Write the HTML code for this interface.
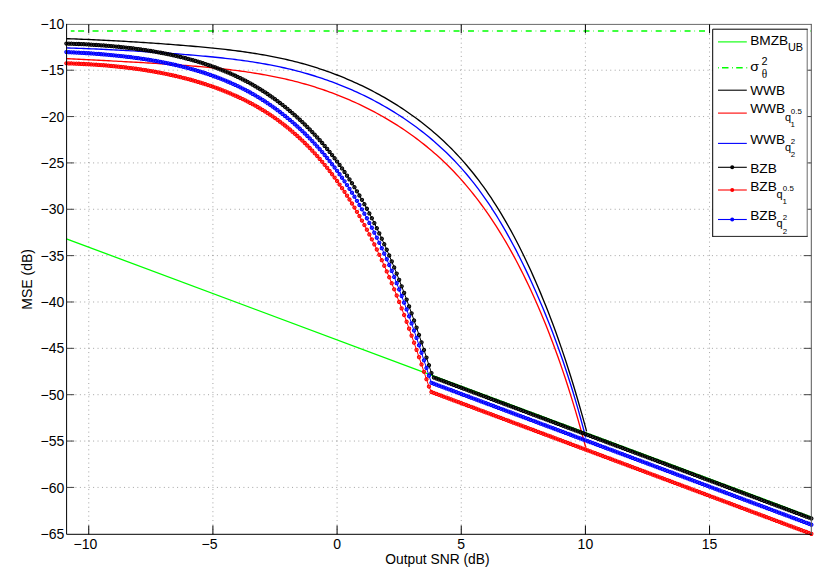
<!DOCTYPE html>
<html><head><meta charset="utf-8"><title>MSE vs Output SNR</title>
<style>html,body{margin:0;padding:0;background:#fff}body{width:830px;height:587px;overflow:hidden}</style>
</head><body>
<svg width="830" height="587" viewBox="0 0 830 587" style="display:block;font-family:'Liberation Sans',sans-serif">
<rect x="0" y="0" width="830" height="587" fill="#fff"/>
<defs><clipPath id="ax"><rect x="63.599999999999994" y="24.4" width="750.6999999999999" height="512.9"/></clipPath>
<marker id="mk" viewBox="-3 -3 6 6" markerWidth="6" markerHeight="6" refX="0" refY="0" markerUnits="userSpaceOnUse"><circle r="1.62" fill="#000" fill-opacity="0.6" stroke="#000" stroke-width="1.05"/></marker>
<marker id="mr" viewBox="-3 -3 6 6" markerWidth="6" markerHeight="6" refX="0" refY="0" markerUnits="userSpaceOnUse"><circle r="1.62" fill="#f00" fill-opacity="0.6" stroke="#f00" stroke-width="1.05"/></marker>
<marker id="mb" viewBox="-3 -3 6 6" markerWidth="6" markerHeight="6" refX="0" refY="0" markerUnits="userSpaceOnUse"><circle r="1.62" fill="#00f" fill-opacity="0.6" stroke="#00f" stroke-width="1.05"/></marker>
</defs>
<g stroke="#000" stroke-opacity="0.36" stroke-width="1" stroke-dasharray="1 3.42" fill="none">
<line x1="88.76" y1="534.3" x2="88.76" y2="24.4"/>
<line x1="212.92" y1="534.3" x2="212.92" y2="24.4"/>
<line x1="337.08" y1="534.3" x2="337.08" y2="24.4"/>
<line x1="461.24" y1="534.3" x2="461.24" y2="24.4"/>
<line x1="585.40" y1="534.3" x2="585.40" y2="24.4"/>
<line x1="709.56" y1="534.3" x2="709.56" y2="24.4"/>
<line x1="66.6" y1="70.21" x2="811.3" y2="70.21"/>
<line x1="66.6" y1="116.56" x2="811.3" y2="116.56"/>
<line x1="66.6" y1="162.92" x2="811.3" y2="162.92"/>
<line x1="66.6" y1="209.28" x2="811.3" y2="209.28"/>
<line x1="66.6" y1="255.63" x2="811.3" y2="255.63"/>
<line x1="66.6" y1="301.99" x2="811.3" y2="301.99"/>
<line x1="66.6" y1="348.34" x2="811.3" y2="348.34"/>
<line x1="66.6" y1="394.70" x2="811.3" y2="394.70"/>
<line x1="66.6" y1="441.06" x2="811.3" y2="441.06"/>
<line x1="66.6" y1="487.41" x2="811.3" y2="487.41"/>
</g>
<g clip-path="url(#ax)" fill="none" stroke-linejoin="round">
<line x1="66.41" y1="238.85" x2="811.37" y2="516.99" stroke="#0f0" stroke-width="1.3"/>
<line x1="70.8" y1="31.00" x2="74.5" y2="31.00" stroke="#0f0" stroke-width="1.6"/>
<line x1="78.1" y1="31.00" x2="811.37" y2="31.00" stroke="#0f0" stroke-width="1.6" stroke-dasharray="6 3.97 0.5 3.97"/>
<polyline points="66.41,38.72 68.89,38.78 71.38,38.87 73.86,38.95 76.34,39.04 78.83,39.14 81.31,39.23 83.79,39.33 86.28,39.43 88.76,39.54 91.24,39.64 93.73,39.75 96.21,39.87 98.69,39.98 101.17,40.10 103.66,40.22 106.14,40.34 108.62,40.47 111.11,40.59 113.59,40.72 116.07,40.86 118.56,40.99 121.04,41.13 123.52,41.27 126.01,41.41 128.49,41.56 130.97,41.71 133.46,41.86 135.94,42.01 138.42,42.17 140.91,42.32 143.39,42.49 145.87,42.65 148.36,42.81 150.84,42.98 153.32,43.15 155.81,43.33 158.29,43.50 160.77,43.68 163.25,43.86 165.74,44.05 168.22,44.23 170.70,44.42 173.19,44.62 175.67,44.81 178.15,45.01 180.64,45.21 183.12,45.41 185.60,45.61 188.09,45.82 190.57,46.03 193.05,46.24 195.54,46.46 198.02,46.68 200.50,46.90 202.99,47.13 205.47,47.37 207.95,47.60 210.44,47.85 212.92,48.10 215.40,48.35 217.89,48.61 220.37,48.88 222.85,49.15 225.33,49.44 227.82,49.73 230.30,50.02 232.78,50.33 235.27,50.64 237.75,50.96 240.23,51.29 242.72,51.63 245.20,51.98 247.68,52.34 250.17,52.71 252.65,53.09 255.13,53.49 257.62,53.89 260.10,54.30 262.58,54.73 265.07,55.17 267.55,55.62 270.03,56.09 272.52,56.57 275.00,57.06 277.48,57.57 279.97,58.09 282.45,58.63 284.93,59.18 287.41,59.75 289.90,60.34 292.38,60.94 294.86,61.56 297.35,62.20 299.83,62.85 302.31,63.52 304.80,64.22 307.28,64.93 309.76,65.66 312.25,66.41 314.73,67.18 317.21,67.97 319.70,68.78 322.18,69.60 324.66,70.45 327.15,71.32 329.63,72.21 332.11,73.12 334.60,74.05 337.08,75.00 339.56,75.97 342.05,76.97 344.53,77.98 347.01,79.02 349.49,80.08 351.98,81.17 354.46,82.27 356.94,83.40 359.43,84.55 361.91,85.73 364.39,86.93 366.88,88.16 369.36,89.41 371.84,90.68 374.33,91.98 376.81,93.31 379.29,94.67 381.78,96.05 384.26,97.46 386.74,98.89 389.23,100.36 391.71,101.85 394.19,103.38 396.68,104.93 399.16,106.52 401.64,108.14 404.13,109.79 406.61,111.47 409.09,113.19 411.57,114.94 414.06,116.73 416.54,118.55 419.02,120.41 421.51,122.31 423.99,124.25 426.47,126.24 428.96,128.26 431.44,130.32 433.92,132.43 436.41,134.59 438.89,136.80 441.37,139.05 443.86,141.35 446.34,143.71 448.82,146.12 451.31,148.59 453.79,151.12 456.27,153.71 458.76,156.37 461.24,159.09 463.72,161.88 466.21,164.75 468.69,167.69 471.17,170.70 473.65,173.79 476.14,176.96 478.62,180.21 481.10,183.54 483.59,186.96 486.07,190.47 488.55,194.06 491.04,197.74 493.52,201.51 496.00,205.38 498.49,209.35 500.97,213.41 503.45,217.58 505.94,221.84 508.42,226.21 510.90,230.69 513.39,235.28 515.87,239.98 518.35,244.79 520.84,249.72 523.32,254.76 525.80,259.92 528.29,265.20 530.77,270.59 533.25,276.11 535.73,281.74 538.22,287.50 540.70,293.38 543.18,299.39 545.67,305.54 548.15,311.83 550.63,318.26 553.12,324.85 555.60,331.60 558.08,338.52 560.57,345.61 563.05,352.87 565.53,360.32 568.02,367.95 570.50,375.78 572.98,383.80 575.47,392.02 577.95,400.44 580.43,409.07 582.92,417.89 585.40,426.91 586.60,431.35" stroke="#000" stroke-width="1.35"/>
<polyline points="66.41,58.62 68.89,58.71 71.38,58.85 73.86,58.98 76.34,59.12 78.83,59.25 81.31,59.38 83.79,59.51 86.28,59.64 88.76,59.77 91.24,59.90 93.73,60.03 96.21,60.15 98.69,60.28 101.17,60.41 103.66,60.54 106.14,60.66 108.62,60.79 111.11,60.92 113.59,61.05 116.07,61.18 118.56,61.31 121.04,61.44 123.52,61.58 126.01,61.71 128.49,61.84 130.97,61.98 133.46,62.12 135.94,62.25 138.42,62.39 140.91,62.54 143.39,62.68 145.87,62.83 148.36,62.97 150.84,63.12 153.32,63.27 155.81,63.43 158.29,63.58 160.77,63.74 163.25,63.90 165.74,64.07 168.22,64.23 170.70,64.40 173.19,64.57 175.67,64.75 178.15,64.93 180.64,65.11 183.12,65.30 185.60,65.48 188.09,65.68 190.57,65.87 193.05,66.07 195.54,66.28 198.02,66.49 200.50,66.70 202.99,66.92 205.47,67.14 207.95,67.37 210.44,67.61 212.92,67.85 215.40,68.10 217.89,68.36 220.37,68.62 222.85,68.89 225.33,69.17 227.82,69.45 230.30,69.75 232.78,70.05 235.27,70.36 237.75,70.68 240.23,71.01 242.72,71.35 245.20,71.70 247.68,72.07 250.17,72.44 252.65,72.82 255.13,73.21 257.62,73.62 260.10,74.04 262.58,74.46 265.07,74.91 267.55,75.36 270.03,75.83 272.52,76.31 275.00,76.81 277.48,77.32 279.97,77.85 282.45,78.39 284.93,78.94 287.41,79.52 289.90,80.11 292.38,80.71 294.86,81.33 297.35,81.97 299.83,82.63 302.31,83.31 304.80,84.01 307.28,84.72 309.76,85.45 312.25,86.21 314.73,86.98 317.21,87.77 319.70,88.58 322.18,89.41 324.66,90.26 327.15,91.14 329.63,92.03 332.11,92.94 334.60,93.87 337.08,94.83 339.56,95.81 342.05,96.80 344.53,97.82 347.01,98.86 349.49,99.93 351.98,101.02 354.46,102.13 356.94,103.26 359.43,104.42 361.91,105.60 364.39,106.81 366.88,108.04 369.36,109.29 371.84,110.58 374.33,111.88 376.81,113.22 379.29,114.58 381.78,115.97 384.26,117.39 386.74,118.83 389.23,120.31 391.71,121.81 394.19,123.35 396.68,124.91 399.16,126.51 401.64,128.14 404.13,129.80 406.61,131.50 409.09,133.23 411.57,135.00 414.06,136.80 416.54,138.64 419.02,140.52 421.51,142.44 423.99,144.40 426.47,146.40 428.96,148.44 431.44,150.53 433.92,152.67 436.41,154.85 438.89,157.08 441.37,159.36 443.86,161.69 446.34,164.08 448.82,166.52 451.31,169.03 453.79,171.59 456.27,174.22 458.76,176.91 461.24,179.66 463.72,182.49 466.21,185.38 468.69,188.33 471.17,191.36 473.65,194.47 476.14,197.64 478.62,200.90 481.10,204.23 483.59,207.63 486.07,211.12 488.55,214.70 491.04,218.35 493.52,222.10 496.00,225.93 498.49,229.85 500.97,233.87 503.45,237.98 505.94,242.18 508.42,246.49 510.90,250.90 513.39,255.41 515.87,260.02 518.35,264.75 520.84,269.59 523.32,274.54 525.80,279.60 528.29,284.78 530.77,290.08 533.25,295.50 535.73,301.05 538.22,306.72 540.70,312.52 543.18,318.46 545.67,324.54 548.15,330.77 550.63,337.16 553.12,343.70 555.60,350.42 558.08,357.30 560.57,364.37 563.05,371.63 565.53,379.08 568.02,386.73 570.50,394.59 572.98,402.65 575.47,410.93 577.95,419.43 580.43,428.15 582.92,437.08 585.40,446.24 586.10,447.46" stroke="#f00" stroke-width="1.35"/>
<polyline points="66.41,47.90 68.89,47.96 71.38,48.05 73.86,48.14 76.34,48.23 78.83,48.32 81.31,48.42 83.79,48.52 86.28,48.62 88.76,48.72 91.24,48.82 93.73,48.93 96.21,49.04 98.69,49.15 101.17,49.27 103.66,49.38 106.14,49.50 108.62,49.62 111.11,49.74 113.59,49.87 116.07,49.99 118.56,50.12 121.04,50.26 123.52,50.39 126.01,50.53 128.49,50.67 130.97,50.81 133.46,50.95 135.94,51.10 138.42,51.25 140.91,51.40 143.39,51.55 145.87,51.71 148.36,51.87 150.84,52.03 153.32,52.19 155.81,52.36 158.29,52.53 160.77,52.70 163.25,52.87 165.74,53.05 168.22,53.23 170.70,53.41 173.19,53.60 175.67,53.78 178.15,53.97 180.64,54.17 183.12,54.36 185.60,54.56 188.09,54.76 190.57,54.97 193.05,55.17 195.54,55.39 198.02,55.60 200.50,55.82 202.99,56.05 205.47,56.27 207.95,56.51 210.44,56.75 212.92,56.99 215.40,57.25 217.89,57.50 220.37,57.77 222.85,58.04 225.33,58.32 227.82,58.60 230.30,58.90 232.78,59.20 235.27,59.51 237.75,59.83 240.23,60.16 242.72,60.50 245.20,60.84 247.68,61.20 250.17,61.57 252.65,61.95 255.13,62.34 257.62,62.74 260.10,63.15 262.58,63.58 265.07,64.02 267.55,64.47 270.03,64.93 272.52,65.41 275.00,65.90 277.48,66.41 279.97,66.93 282.45,67.47 284.93,68.02 287.41,68.59 289.90,69.17 292.38,69.77 294.86,70.39 297.35,71.03 299.83,71.68 302.31,72.35 304.80,73.05 307.28,73.76 309.76,74.48 312.25,75.23 314.73,76.00 317.21,76.79 319.70,77.59 322.18,78.42 324.66,79.27 327.15,80.13 329.63,81.02 332.11,81.93 334.60,82.85 337.08,83.80 339.56,84.77 342.05,85.77 344.53,86.78 347.01,87.82 349.49,88.87 351.98,89.95 354.46,91.06 356.94,92.19 359.43,93.34 361.91,94.51 364.39,95.71 366.88,96.93 369.36,98.18 371.84,99.46 374.33,100.75 376.81,102.08 379.29,103.43 381.78,104.81 384.26,106.22 386.74,107.66 389.23,109.12 391.71,110.62 394.19,112.14 396.68,113.70 399.16,115.28 401.64,116.90 404.13,118.55 406.61,120.24 409.09,121.96 411.57,123.71 414.06,125.50 416.54,127.33 419.02,129.19 421.51,131.10 423.99,133.04 426.47,135.03 428.96,137.06 431.44,139.13 433.92,141.25 436.41,143.42 438.89,145.63 441.37,147.90 443.86,150.21 446.34,152.59 448.82,155.01 451.31,157.50 453.79,160.05 456.27,162.66 458.76,165.34 461.24,168.08 463.72,170.90 466.21,173.80 468.69,176.77 471.17,179.82 473.65,182.95 476.14,186.16 478.62,189.45 481.10,192.83 483.59,196.29 486.07,199.85 488.55,203.49 491.04,207.22 493.52,211.05 496.00,214.97 498.49,218.99 500.97,223.11 503.45,227.32 505.94,231.64 508.42,236.06 510.90,240.58 513.39,245.20 515.87,249.93 518.35,254.77 520.84,259.70 523.32,264.75 525.80,269.89 528.29,275.14 530.77,280.49 533.25,285.94 535.73,291.50 538.22,297.16 540.70,302.94 543.18,308.85 545.67,314.88 548.15,321.05 550.63,327.36 553.12,333.82 555.60,340.43 558.08,347.22 560.57,354.18 563.05,361.34 565.53,368.69 568.02,376.25 570.50,384.03 572.98,392.05 575.47,400.33 577.95,408.87 580.43,417.70 582.92,426.83 585.40,436.29 585.70,437.46" stroke="#00f" stroke-width="1.35"/>
<polyline points="66.41,43.54 68.89,43.61 71.38,43.70 73.86,43.79 76.34,43.88 78.83,43.99 81.31,44.10 83.79,44.22 86.28,44.34 88.76,44.48 91.24,44.62 93.73,44.77 96.21,44.93 98.69,45.09 101.17,45.27 103.66,45.45 106.14,45.65 108.62,45.85 111.11,46.06 113.59,46.29 116.07,46.52 118.56,46.76 121.04,47.02 123.52,47.28 126.01,47.56 128.49,47.84 130.97,48.14 133.46,48.45 135.94,48.77 138.42,49.11 140.91,49.46 143.39,49.82 145.87,50.19 148.36,50.58 150.84,50.98 153.32,51.39 155.81,51.82 158.29,52.27 160.77,52.73 163.25,53.20 165.74,53.69 168.22,54.20 170.70,54.72 173.19,55.26 175.67,55.82 178.15,56.40 180.64,56.99 183.12,57.60 185.60,58.24 188.09,58.89 190.57,59.56 193.05,60.25 195.54,60.96 198.02,61.70 200.50,62.45 202.99,63.23 205.47,64.03 207.95,64.86 210.44,65.71 212.92,66.59 215.40,67.49 217.89,68.42 220.37,69.37 222.85,70.36 225.33,71.37 227.82,72.42 230.30,73.49 232.78,74.60 235.27,75.74 237.75,76.91 240.23,78.12 242.72,79.36 245.20,80.64 247.68,81.96 250.17,83.32 252.65,84.72 255.13,86.16 257.62,87.64 260.10,89.17 262.58,90.73 265.07,92.34 267.55,93.99 270.03,95.69 272.52,97.43 275.00,99.21 277.48,101.04 279.97,102.92 282.45,104.85 284.93,106.82 287.41,108.85 289.90,110.92 292.38,113.05 294.86,115.22 297.35,117.45 299.83,119.74 302.31,122.08 304.80,124.48 307.28,126.93 309.76,129.45 312.25,132.02 314.73,134.66 317.21,137.37 319.70,140.14 322.18,142.97 324.66,145.88 327.15,148.86 329.63,151.91 332.11,155.05 334.60,158.26 337.08,161.55 339.56,164.93 342.05,168.41 344.53,171.97 347.01,175.63 349.49,179.39 351.98,183.25 354.46,187.22 356.94,191.29 359.43,195.48 361.91,199.78 364.39,204.20 366.88,208.74 369.36,213.40 371.84,218.19 374.33,223.11 376.81,228.17 379.29,233.36 381.78,238.69 384.26,244.15 386.74,249.76 389.23,255.51 391.71,261.39 394.19,267.42 396.68,273.58 399.16,279.87 401.64,286.30 404.13,292.86 406.61,299.55 409.09,306.38 411.57,313.33 414.06,320.41 416.54,327.62 419.02,334.94 421.51,342.37 423.99,349.91 426.47,357.55 428.96,365.27 431.44,373.07 433.92,377.55 436.41,378.48 438.89,379.40 441.37,380.33 443.86,381.26 446.34,382.18 448.82,383.11 451.31,384.04 453.79,384.97 456.27,385.89 458.76,386.82 461.24,387.75 463.72,388.67 466.21,389.60 468.69,390.53 471.17,391.46 473.65,392.38 476.14,393.31 478.62,394.24 481.10,395.16 483.59,396.09 486.07,397.02 488.55,397.95 491.04,398.87 493.52,399.80 496.00,400.73 498.49,401.65 500.97,402.58 503.45,403.51 505.94,404.44 508.42,405.36 510.90,406.29 513.39,407.22 515.87,408.14 518.35,409.07 520.84,410.00 523.32,410.93 525.80,411.85 528.29,412.78 530.77,413.71 533.25,414.63 535.73,415.56 538.22,416.49 540.70,417.42 543.18,418.34 545.67,419.27 548.15,420.20 550.63,421.12 553.12,422.05 555.60,422.98 558.08,423.91 560.57,424.83 563.05,425.76 565.53,426.69 568.02,427.61 570.50,428.54 572.98,429.47 575.47,430.40 577.95,431.32 580.43,432.25 582.92,433.18 585.40,434.10 587.88,435.03 590.37,435.96 592.85,436.89 595.33,437.81 597.81,438.74 600.30,439.67 602.78,440.59 605.26,441.52 607.75,442.45 610.23,443.38 612.71,444.30 615.20,445.23 617.68,446.16 620.16,447.08 622.65,448.01 625.13,448.94 627.61,449.86 630.10,450.79 632.58,451.72 635.06,452.65 637.55,453.57 640.03,454.50 642.51,455.43 645.00,456.35 647.48,457.28 649.96,458.21 652.45,459.14 654.93,460.06 657.41,460.99 659.89,461.92 662.38,462.84 664.86,463.77 667.34,464.70 669.83,465.63 672.31,466.55 674.79,467.48 677.28,468.41 679.76,469.33 682.24,470.26 684.73,471.19 687.21,472.12 689.69,473.04 692.18,473.97 694.66,474.90 697.14,475.82 699.63,476.75 702.11,477.68 704.59,478.61 707.08,479.53 709.56,480.46 712.04,481.39 714.53,482.31 717.01,483.24 719.49,484.17 721.97,485.10 724.46,486.02 726.94,486.95 729.42,487.88 731.91,488.80 734.39,489.73 736.87,490.66 739.36,491.59 741.84,492.51 744.32,493.44 746.81,494.37 749.29,495.29 751.77,496.22 754.26,497.15 756.74,498.08 759.22,499.00 761.71,499.93 764.19,500.86 766.67,501.78 769.16,502.71 771.64,503.64 774.12,504.57 776.61,505.49 779.09,506.42 781.57,507.35 784.05,508.27 786.54,509.20 789.02,510.13 791.50,511.06 793.99,511.98 796.47,512.91 798.95,513.84 801.44,514.76 803.92,515.69 806.40,516.62 808.89,517.55 811.37,518.47" stroke="#000" stroke-width="1.0" marker-start="url(#mk)" marker-mid="url(#mk)" marker-end="url(#mk)"/>
<polyline points="66.41,63.33 68.89,63.39 71.38,63.47 73.86,63.56 76.34,63.65 78.83,63.75 81.31,63.87 83.79,63.99 86.28,64.11 88.76,64.25 91.24,64.40 93.73,64.55 96.21,64.72 98.69,64.89 101.17,65.08 103.66,65.27 106.14,65.47 108.62,65.69 111.11,65.91 113.59,66.14 116.07,66.39 118.56,66.64 121.04,66.91 123.52,67.19 126.01,67.48 128.49,67.78 130.97,68.09 133.46,68.41 135.94,68.75 138.42,69.10 140.91,69.46 143.39,69.83 145.87,70.22 148.36,70.62 150.84,71.04 153.32,71.46 155.81,71.91 158.29,72.36 160.77,72.83 163.25,73.32 165.74,73.82 168.22,74.34 170.70,74.87 173.19,75.42 175.67,75.99 178.15,76.57 180.64,77.17 183.12,77.79 185.60,78.42 188.09,79.08 190.57,79.75 193.05,80.44 195.54,81.15 198.02,81.88 200.50,82.63 202.99,83.40 205.47,84.20 207.95,85.02 210.44,85.85 212.92,86.72 215.40,87.60 217.89,88.51 220.37,89.44 222.85,90.40 225.33,91.39 227.82,92.40 230.30,93.45 232.78,94.52 235.27,95.61 237.75,96.74 240.23,97.90 242.72,99.10 245.20,100.32 247.68,101.58 250.17,102.88 252.65,104.21 255.13,105.58 257.62,106.99 260.10,108.43 262.58,109.92 265.07,111.46 267.55,113.04 270.03,114.66 272.52,116.34 275.00,118.06 277.48,119.84 279.97,121.67 282.45,123.54 284.93,125.48 287.41,127.46 289.90,129.51 292.38,131.61 294.86,133.77 297.35,135.98 299.83,138.26 302.31,140.60 304.80,143.01 307.28,145.48 309.76,148.01 312.25,150.62 314.73,153.30 317.21,156.05 319.70,158.88 322.18,161.79 324.66,164.78 327.15,167.85 329.63,171.01 332.11,174.25 334.60,177.59 337.08,181.01 339.56,184.52 342.05,188.13 344.53,191.83 347.01,195.62 349.49,199.51 351.98,203.50 354.46,207.60 356.94,211.80 359.43,216.10 361.91,220.52 364.39,225.05 366.88,229.69 369.36,234.46 371.84,239.35 374.33,244.37 376.81,249.51 379.29,254.78 381.78,260.19 384.26,265.73 386.74,271.41 389.23,277.23 391.71,283.18 394.19,289.28 396.68,295.51 399.16,301.88 401.64,308.38 404.13,315.01 406.61,321.76 409.09,328.63 411.57,335.62 414.06,342.70 416.54,349.87 419.02,357.12 421.51,364.43 423.99,371.79 426.47,379.19 428.96,386.59 431.44,392.01 433.92,392.94 436.41,393.87 438.89,394.79 441.37,395.72 443.86,396.65 446.34,397.58 448.82,398.50 451.31,399.43 453.79,400.36 456.27,401.28 458.76,402.21 461.24,403.14 463.72,404.06 466.21,404.99 468.69,405.92 471.17,406.85 473.65,407.77 476.14,408.70 478.62,409.63 481.10,410.55 483.59,411.48 486.07,412.41 488.55,413.34 491.04,414.26 493.52,415.19 496.00,416.12 498.49,417.04 500.97,417.97 503.45,418.90 505.94,419.83 508.42,420.75 510.90,421.68 513.39,422.61 515.87,423.53 518.35,424.46 520.84,425.39 523.32,426.32 525.80,427.24 528.29,428.17 530.77,429.10 533.25,430.02 535.73,430.95 538.22,431.88 540.70,432.81 543.18,433.73 545.67,434.66 548.15,435.59 550.63,436.51 553.12,437.44 555.60,438.37 558.08,439.30 560.57,440.22 563.05,441.15 565.53,442.08 568.02,443.00 570.50,443.93 572.98,444.86 575.47,445.79 577.95,446.71 580.43,447.64 582.92,448.57 585.40,449.49 587.88,450.42 590.37,451.35 592.85,452.28 595.33,453.20 597.81,454.13 600.30,455.06 602.78,455.98 605.26,456.91 607.75,457.84 610.23,458.77 612.71,459.69 615.20,460.62 617.68,461.55 620.16,462.47 622.65,463.40 625.13,464.33 627.61,465.26 630.10,466.18 632.58,467.11 635.06,468.04 637.55,468.96 640.03,469.89 642.51,470.82 645.00,471.75 647.48,472.67 649.96,473.60 652.45,474.53 654.93,475.45 657.41,476.38 659.89,477.31 662.38,478.24 664.86,479.16 667.34,480.09 669.83,481.02 672.31,481.94 674.79,482.87 677.28,483.80 679.76,484.72 682.24,485.65 684.73,486.58 687.21,487.51 689.69,488.43 692.18,489.36 694.66,490.29 697.14,491.21 699.63,492.14 702.11,493.07 704.59,494.00 707.08,494.92 709.56,495.85 712.04,496.78 714.53,497.70 717.01,498.63 719.49,499.56 721.97,500.49 724.46,501.41 726.94,502.34 729.42,503.27 731.91,504.19 734.39,505.12 736.87,506.05 739.36,506.98 741.84,507.90 744.32,508.83 746.81,509.76 749.29,510.68 751.77,511.61 754.26,512.54 756.74,513.47 759.22,514.39 761.71,515.32 764.19,516.25 766.67,517.17 769.16,518.10 771.64,519.03 774.12,519.96 776.61,520.88 779.09,521.81 781.57,522.74 784.05,523.66 786.54,524.59 789.02,525.52 791.50,526.45 793.99,527.37 796.47,528.30 798.95,529.23 801.44,530.15 803.92,531.08 806.40,532.01 808.89,532.94 811.37,533.86" stroke="#f00" stroke-width="1.0" marker-start="url(#mr)" marker-mid="url(#mr)" marker-end="url(#mr)"/>
<polyline points="66.41,52.08 68.89,52.17 71.38,52.29 73.86,52.41 76.34,52.54 78.83,52.67 81.31,52.81 83.79,52.95 86.28,53.11 88.76,53.26 91.24,53.43 93.73,53.60 96.21,53.78 98.69,53.97 101.17,54.17 103.66,54.37 106.14,54.58 108.62,54.80 111.11,55.03 113.59,55.27 116.07,55.52 118.56,55.78 121.04,56.04 123.52,56.32 126.01,56.61 128.49,56.91 130.97,57.22 133.46,57.54 135.94,57.87 138.42,58.22 140.91,58.57 143.39,58.94 145.87,59.32 148.36,59.72 150.84,60.13 153.32,60.55 155.81,60.99 158.29,61.44 160.77,61.90 163.25,62.38 165.74,62.88 168.22,63.39 170.70,63.92 173.19,64.46 175.67,65.02 178.15,65.60 180.64,66.20 183.12,66.81 185.60,67.44 188.09,68.10 190.57,68.77 193.05,69.46 195.54,70.18 198.02,70.91 200.50,71.67 202.99,72.45 205.47,73.25 207.95,74.07 210.44,74.92 212.92,75.80 215.40,76.70 217.89,77.63 220.37,78.58 222.85,79.57 225.33,80.58 227.82,81.62 230.30,82.69 232.78,83.79 235.27,84.93 237.75,86.10 240.23,87.30 242.72,88.54 245.20,89.82 247.68,91.14 250.17,92.49 252.65,93.89 255.13,95.32 257.62,96.80 260.10,98.31 262.58,99.87 265.07,101.47 267.55,103.11 270.03,104.80 272.52,106.53 275.00,108.31 277.48,110.13 279.97,112.00 282.45,113.92 284.93,115.88 287.41,117.90 289.90,119.97 292.38,122.08 294.86,124.25 297.35,126.48 299.83,128.76 302.31,131.10 304.80,133.49 307.28,135.95 309.76,138.47 312.25,141.05 314.73,143.70 317.21,146.41 319.70,149.20 322.18,152.05 324.66,154.98 327.15,157.99 329.63,161.08 332.11,164.24 334.60,167.49 337.08,170.82 339.56,174.24 342.05,177.75 344.53,181.35 347.01,185.04 349.49,188.82 351.98,192.71 354.46,196.69 356.94,200.78 359.43,204.98 361.91,209.29 364.39,213.71 366.88,218.26 369.36,222.92 371.84,227.71 374.33,232.62 376.81,237.67 379.29,242.85 381.78,248.17 384.26,253.64 386.74,259.24 389.23,264.99 391.71,270.89 394.19,276.94 396.68,283.14 399.16,289.49 401.64,295.98 404.13,302.63 406.61,309.41 409.09,316.34 411.57,323.40 414.06,330.58 416.54,337.88 419.02,345.28 421.51,352.77 423.99,360.33 426.47,367.95 428.96,375.61 431.44,382.83 433.92,383.76 436.41,384.69 438.89,385.62 441.37,386.54 443.86,387.47 446.34,388.40 448.82,389.32 451.31,390.25 453.79,391.18 456.27,392.10 458.76,393.03 461.24,393.96 463.72,394.89 466.21,395.81 468.69,396.74 471.17,397.67 473.65,398.59 476.14,399.52 478.62,400.45 481.10,401.38 483.59,402.30 486.07,403.23 488.55,404.16 491.04,405.08 493.52,406.01 496.00,406.94 498.49,407.87 500.97,408.79 503.45,409.72 505.94,410.65 508.42,411.57 510.90,412.50 513.39,413.43 515.87,414.36 518.35,415.28 520.84,416.21 523.32,417.14 525.80,418.06 528.29,418.99 530.77,419.92 533.25,420.85 535.73,421.77 538.22,422.70 540.70,423.63 543.18,424.55 545.67,425.48 548.15,426.41 550.63,427.34 553.12,428.26 555.60,429.19 558.08,430.12 560.57,431.04 563.05,431.97 565.53,432.90 568.02,433.83 570.50,434.75 572.98,435.68 575.47,436.61 577.95,437.53 580.43,438.46 582.92,439.39 585.40,440.32 587.88,441.24 590.37,442.17 592.85,443.10 595.33,444.02 597.81,444.95 600.30,445.88 602.78,446.81 605.26,447.73 607.75,448.66 610.23,449.59 612.71,450.51 615.20,451.44 617.68,452.37 620.16,453.30 622.65,454.22 625.13,455.15 627.61,456.08 630.10,457.00 632.58,457.93 635.06,458.86 637.55,459.79 640.03,460.71 642.51,461.64 645.00,462.57 647.48,463.49 649.96,464.42 652.45,465.35 654.93,466.28 657.41,467.20 659.89,468.13 662.38,469.06 664.86,469.98 667.34,470.91 669.83,471.84 672.31,472.77 674.79,473.69 677.28,474.62 679.76,475.55 682.24,476.47 684.73,477.40 687.21,478.33 689.69,479.25 692.18,480.18 694.66,481.11 697.14,482.04 699.63,482.96 702.11,483.89 704.59,484.82 707.08,485.74 709.56,486.67 712.04,487.60 714.53,488.53 717.01,489.45 719.49,490.38 721.97,491.31 724.46,492.23 726.94,493.16 729.42,494.09 731.91,495.02 734.39,495.94 736.87,496.87 739.36,497.80 741.84,498.72 744.32,499.65 746.81,500.58 749.29,501.51 751.77,502.43 754.26,503.36 756.74,504.29 759.22,505.21 761.71,506.14 764.19,507.07 766.67,508.00 769.16,508.92 771.64,509.85 774.12,510.78 776.61,511.70 779.09,512.63 781.57,513.56 784.05,514.49 786.54,515.41 789.02,516.34 791.50,517.27 793.99,518.19 796.47,519.12 798.95,520.05 801.44,520.98 803.92,521.90 806.40,522.83 808.89,523.76 811.37,524.68" stroke="#00f" stroke-width="1.0" marker-start="url(#mb)" marker-mid="url(#mb)" marker-end="url(#mb)"/>
</g>
<g stroke="#000" stroke-width="1" fill="none">
<path d="M66.6,24.4 H811.3" stroke="#6a6a6a"/>
<path d="M811.3,23.9 V534.3" stroke="#555"/>
<path d="M66.6,23.9 V534.3 H811.8" stroke="#000"/>
<line x1="88.76" y1="534.3" x2="88.76" y2="525.5"/>
<line x1="88.76" y1="24.4" x2="88.76" y2="33.2"/>
<line x1="212.92" y1="534.3" x2="212.92" y2="525.5"/>
<line x1="212.92" y1="24.4" x2="212.92" y2="33.2"/>
<line x1="337.08" y1="534.3" x2="337.08" y2="525.5"/>
<line x1="337.08" y1="24.4" x2="337.08" y2="33.2"/>
<line x1="461.24" y1="534.3" x2="461.24" y2="525.5"/>
<line x1="461.24" y1="24.4" x2="461.24" y2="33.2"/>
<line x1="585.40" y1="534.3" x2="585.40" y2="525.5"/>
<line x1="585.40" y1="24.4" x2="585.40" y2="33.2"/>
<line x1="709.56" y1="534.3" x2="709.56" y2="525.5"/>
<line x1="709.56" y1="24.4" x2="709.56" y2="33.2"/>
<line x1="66.6" y1="70.21" x2="74.19999999999999" y2="70.21" stroke="#444"/>
<line x1="811.3" y1="70.21" x2="803.6999999999999" y2="70.21" stroke="#444"/>
<line x1="66.6" y1="116.56" x2="74.19999999999999" y2="116.56" stroke="#444"/>
<line x1="811.3" y1="116.56" x2="803.6999999999999" y2="116.56" stroke="#444"/>
<line x1="66.6" y1="162.92" x2="74.19999999999999" y2="162.92" stroke="#444"/>
<line x1="811.3" y1="162.92" x2="803.6999999999999" y2="162.92" stroke="#444"/>
<line x1="66.6" y1="209.28" x2="74.19999999999999" y2="209.28" stroke="#444"/>
<line x1="811.3" y1="209.28" x2="803.6999999999999" y2="209.28" stroke="#444"/>
<line x1="66.6" y1="255.63" x2="74.19999999999999" y2="255.63" stroke="#444"/>
<line x1="811.3" y1="255.63" x2="803.6999999999999" y2="255.63" stroke="#444"/>
<line x1="66.6" y1="301.99" x2="74.19999999999999" y2="301.99" stroke="#444"/>
<line x1="811.3" y1="301.99" x2="803.6999999999999" y2="301.99" stroke="#444"/>
<line x1="66.6" y1="348.34" x2="74.19999999999999" y2="348.34" stroke="#444"/>
<line x1="811.3" y1="348.34" x2="803.6999999999999" y2="348.34" stroke="#444"/>
<line x1="66.6" y1="394.70" x2="74.19999999999999" y2="394.70" stroke="#444"/>
<line x1="811.3" y1="394.70" x2="803.6999999999999" y2="394.70" stroke="#444"/>
<line x1="66.6" y1="441.06" x2="74.19999999999999" y2="441.06" stroke="#444"/>
<line x1="811.3" y1="441.06" x2="803.6999999999999" y2="441.06" stroke="#444"/>
<line x1="66.6" y1="487.41" x2="74.19999999999999" y2="487.41" stroke="#444"/>
<line x1="811.3" y1="487.41" x2="803.6999999999999" y2="487.41" stroke="#444"/>
</g>
<g font-size="14" fill="#000">
<text x="64.3" y="29.00" text-anchor="end">−10</text>
<text x="64.3" y="75.36" text-anchor="end">−15</text>
<text x="64.3" y="121.71" text-anchor="end">−20</text>
<text x="64.3" y="168.07" text-anchor="end">−25</text>
<text x="64.3" y="214.43" text-anchor="end">−30</text>
<text x="64.3" y="260.78" text-anchor="end">−35</text>
<text x="64.3" y="307.14" text-anchor="end">−40</text>
<text x="64.3" y="353.49" text-anchor="end">−45</text>
<text x="64.3" y="399.85" text-anchor="end">−50</text>
<text x="64.3" y="446.21" text-anchor="end">−55</text>
<text x="64.3" y="492.56" text-anchor="end">−60</text>
<text x="64.3" y="538.92" text-anchor="end">−65</text>
<text x="85.36" y="549" text-anchor="middle">−10</text>
<text x="209.52" y="549" text-anchor="middle">−5</text>
<text x="337.08" y="549" text-anchor="middle">0</text>
<text x="461.24" y="549" text-anchor="middle">5</text>
<text x="585.40" y="549" text-anchor="middle">10</text>
<text x="709.56" y="549" text-anchor="middle">15</text>
<text x="437.4" y="563.8" text-anchor="middle" font-size="13.8">Output SNR (dB)</text>
<text transform="translate(32.2,279.3) rotate(-90)" text-anchor="middle">MSE (dB)</text>
</g>
<rect x="712.7" y="29.2" width="94.5" height="207.20000000000002" fill="#fff" stroke="none"/>
<path d="M807.2,236.4 V29.2" fill="none" stroke="#6a6a6a" stroke-width="1"/>
<path d="M712.7,236.4 H807.7" fill="none" stroke="#222" stroke-width="1"/>
<path d="M712.7,236.9 V29.2 H807.7" fill="none" stroke="#000" stroke-width="1"/>
<g fill="none" stroke-width="1.1">
<line x1="718.0" y1="41.9" x2="746.8" y2="41.9" stroke="#0f0"/>
<line x1="718.0" y1="67.7" x2="747.3" y2="67.7" stroke="#0f0" stroke-width="1.6" stroke-dasharray="0.8 3.2 6.5 3.7"/>
<line x1="718.0" y1="90.2" x2="746.8" y2="90.2" stroke="#000"/>
<line x1="718.0" y1="113.1" x2="746.8" y2="113.1" stroke="#f00"/>
<line x1="718.0" y1="143.4" x2="746.8" y2="143.4" stroke="#00f"/>
<line x1="718.0" y1="167.3" x2="746.8" y2="167.3" stroke="#000"/>
<circle cx="732.2" cy="167.3" r="2.0" fill="#000" stroke="none"/>
<line x1="718.0" y1="190.0" x2="746.8" y2="190.0" stroke="#f00"/>
<circle cx="732.2" cy="190.0" r="2.0" fill="#f00" stroke="none"/>
<line x1="718.0" y1="219.5" x2="746.8" y2="219.5" stroke="#00f"/>
<circle cx="732.2" cy="219.5" r="2.0" fill="#00f" stroke="none"/>
</g>
<g fill="#000">
<text transform="translate(750.2,44.6) scale(1.07,1)" font-size="12.8" >BMZB</text>
<text transform="translate(788.0,51.2) scale(1.07,1)" font-size="10.2" >UB</text>
<text transform="translate(750.2,71.4) scale(1.07,1)" font-size="13.2" >σ</text>
<text transform="translate(761.6,64.5) scale(1.07,1)" font-size="10.2" >2</text>
<text transform="translate(761.7,78.0) scale(0.98,1)" font-size="11.6" font-family="'Liberation Serif',serif">θ</text>
<text transform="translate(750.2,95.2) scale(1.07,1)" font-size="12.8" >WWB</text>
<text transform="translate(750.2,113.3) scale(1.07,1)" font-size="12.8" >WWB</text>
<text transform="translate(784.9,120.7) scale(1.07,1)" font-size="10.2" >q</text>
<text transform="translate(790.8,113.8) scale(1.07,1)" font-size="7.4" >0.5</text>
<text transform="translate(790.6,126.9) scale(1.07,1)" font-size="7.4" >1</text>
<text transform="translate(750.2,143.5) scale(1.07,1)" font-size="12.8" >WWB</text>
<text transform="translate(784.9,150.5) scale(1.07,1)" font-size="10.2" >q</text>
<text transform="translate(790.8,143.7) scale(1.07,1)" font-size="7.4" >2</text>
<text transform="translate(790.8,156.8) scale(1.07,1)" font-size="7.4" >2</text>
<text transform="translate(750.2,172.7) scale(1.07,1)" font-size="12.8" >BZB</text>
<text transform="translate(750.2,190.5) scale(1.07,1)" font-size="12.8" >BZB</text>
<text transform="translate(776.6,198.2) scale(1.07,1)" font-size="10.2" >q</text>
<text transform="translate(782.8,190.6) scale(1.07,1)" font-size="7.4" >0.5</text>
<text transform="translate(782.6,204.0) scale(1.07,1)" font-size="7.4" >1</text>
<text transform="translate(750.2,219.5) scale(1.07,1)" font-size="12.8" >BZB</text>
<text transform="translate(776.6,227.2) scale(1.07,1)" font-size="10.2" >q</text>
<text transform="translate(782.8,219.9) scale(1.07,1)" font-size="7.4" >2</text>
<text transform="translate(782.8,233.6) scale(1.07,1)" font-size="7.4" >2</text>
</g>
<!--SUBS-->
</svg>
</body></html>
